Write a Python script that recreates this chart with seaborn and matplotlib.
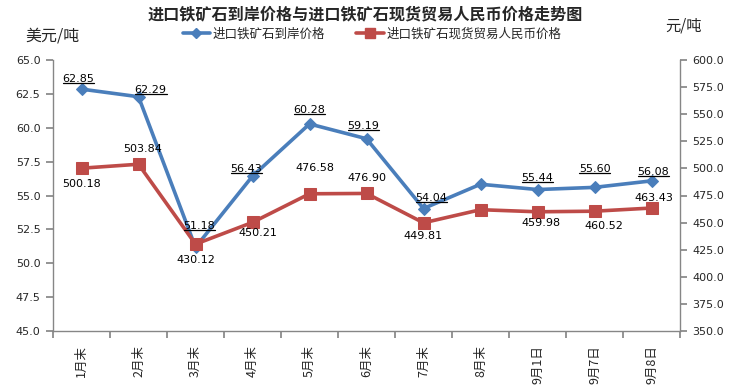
import matplotlib
matplotlib.use("Agg")
import matplotlib.pyplot as plt
import seaborn as sns
import pandas as pd
import numpy as np
from matplotlib.lines import Line2D

categories = ["1月末", "2月末", "3月末", "4月末", "5月末", "6月末", "7月末", "8月末", "9月1日", "9月7日", "9月8日"]
usd_price = [62.85, 62.29, 51.18, 56.43, 60.28, 59.19, 54.04, 55.83, 55.44, 55.60, 56.08]
rmb_price = [500.18, 503.84, 430.12, 450.21, 476.58, 476.90, 449.81, 461.9, 459.98, 460.52, 463.43]
usd_labels = ["62.85", "62.29", "51.18", "56.43", "60.28", "59.19", "54.04", None, "55.44", "55.60", "56.08"]
rmb_labels = ["500.18", "503.84", "430.12", "450.21", "476.58", "476.90", "449.81", None, "459.98", "460.52", "463.43"]
series_names = ["进口铁矿石到岸价格", "进口铁矿石现货贸易人民币价格"]
title = "进口铁矿石到岸价格与进口铁矿石现货贸易人民币价格走势图"
left_unit = "美元/吨"
right_unit = "元/吨"
left_ticks = [45.0, 47.5, 50.0, 52.5, 55.0, 57.5, 60.0, 62.5, 65.0]
right_ticks = [350.0, 375.0, 400.0, 425.0, 450.0, 475.0, 500.0, 525.0, 550.0, 575.0, 600.0]

# label offsets in pixels (dx, dy)
usd_off = [(-3, 10), (12, 7), (4, 21), (-6, 7), (0, 14), (-3, 13), (8, 11), None, (0, 12), (0, 18), (2, 9)]
rmb_off = [(0, -16), (4, 15), (0, -16), (5, -11), (5, 26), (0, 15), (0, -13), None, (3, -11), (9, -15), (2, 10)]

sns.set_theme(style="white")
plt.rcParams['font.family'] = ['Noto Sans CJK SC', 'DejaVu Sans']

blue = "#4A7EBB"
red = "#BE4B48"
gray = "#868686"

df = pd.DataFrame({"x": np.arange(len(categories)), "usd": usd_price, "rmb": rmb_price})

fig = plt.figure(figsize=(7.36, 3.89), dpi=100)
ax = fig.add_axes([53/736, 1-331/389, (680-53)/736, (331-60)/389])
ax2 = ax.twinx()

sns.lineplot(data=df, x="x", y="usd", ax=ax, color=blue, linewidth=2.6, marker="D",
             markersize=6, markeredgecolor=blue, sort=False)
sns.lineplot(data=df, x="x", y="rmb", ax=ax2, color=red, linewidth=2.6, marker="s",
             markersize=8.5, markeredgecolor=red, sort=False)

ax.set_xlim(-0.5, len(categories) - 0.5)
ax.set_ylim(45, 65)
ax2.set_ylim(350, 600)
ax.set_yticks(left_ticks)
ax.set_yticklabels([f"{v:.1f}" for v in left_ticks], fontsize=8, family="DejaVu Sans")
ax2.set_yticks(right_ticks)
ax2.set_yticklabels([f"{v:.1f}" for v in right_ticks], fontsize=8, family="DejaVu Sans")
ax.set_xticks(np.arange(-0.5, len(categories), 1.0))
ax.set_xticklabels([])
ax.set_xticks(np.arange(len(categories)), minor=True)
ax.set_xticklabels(categories, minor=True, rotation=90, fontsize=9, va="top", ha="center")
ax.tick_params(axis="x", which="minor", length=0, pad=10)
ax.tick_params(axis="x", which="major", length=5, color=gray, direction="out", bottom=True)
ax.tick_params(axis="y", length=5, color=gray, direction="out", left=True, pad=4)
ax2.tick_params(axis="y", length=5, color=gray, direction="out", right=True, pad=4)
ax.set_xlabel("")
ax.set_ylabel("")
ax2.set_ylabel("")
ax.grid(False)
ax2.grid(False)

for a in (ax, ax2):
    a.spines["top"].set_visible(False)
    for s in ("left", "right", "bottom"):
        a.spines[s].set_color(gray)
        a.spines[s].set_linewidth(1.0)
ax.spines["right"].set_visible(False)
ax2.spines["left"].set_visible(False)
ax2.spines["bottom"].set_visible(False)

px = 0.72  # points per pixel
usd_texts = []
for i, (lab, off) in enumerate(zip(usd_labels, usd_off)):
    if lab is None:
        continue
    t = ax.annotate(lab, (i, usd_price[i]), xytext=(off[0]*px, off[1]*px), textcoords="offset points",
                    ha="center", va="center", fontsize=8, family="DejaVu Sans", color="black", zorder=10)
    usd_texts.append(t)
for i, (lab, off) in enumerate(zip(rmb_labels, rmb_off)):
    if lab is None:
        continue
    ax2.annotate(lab, (i, rmb_price[i]), xytext=(off[0]*px, off[1]*px), textcoords="offset points",
                 ha="center", va="center", fontsize=8, family="DejaVu Sans", color="black", zorder=10)

fig.text(365/736, 1-14/389, title, ha="center", va="center", fontsize=11.6, fontweight="bold")
fig.text(52/736, 1-36/389, left_unit, ha="center", va="center", fontsize=11.5)
fig.text(684/736, 1-26/389, right_unit, ha="center", va="center", fontsize=11)

handles = [Line2D([], [], color=blue, lw=2.6, marker="D", markersize=5),
           Line2D([], [], color=red, lw=2.6, marker="s", markersize=6.5)]
fig.legend(handles, series_names, loc="center", bbox_to_anchor=(372/736, 1-34/389), ncol=2,
           frameon=False, fontsize=9, handlelength=2.2, handletextpad=0.2, columnspacing=2.5)

# underline blue labels
fig.canvas.draw()
renderer = fig.canvas.get_renderer()
inv = fig.transFigure.inverted()
for t in usd_texts:
    bb = t.get_window_extent(renderer)
    (x0, y0), (x1, y1) = inv.transform([(bb.x0, bb.y0 + 1), (bb.x1, bb.y0 + 1)])
    fig.add_artist(Line2D([x0, x1], [y0, y1], color="black", lw=0.9, transform=fig.transFigure))

fig.savefig("out.png", dpi=100)
